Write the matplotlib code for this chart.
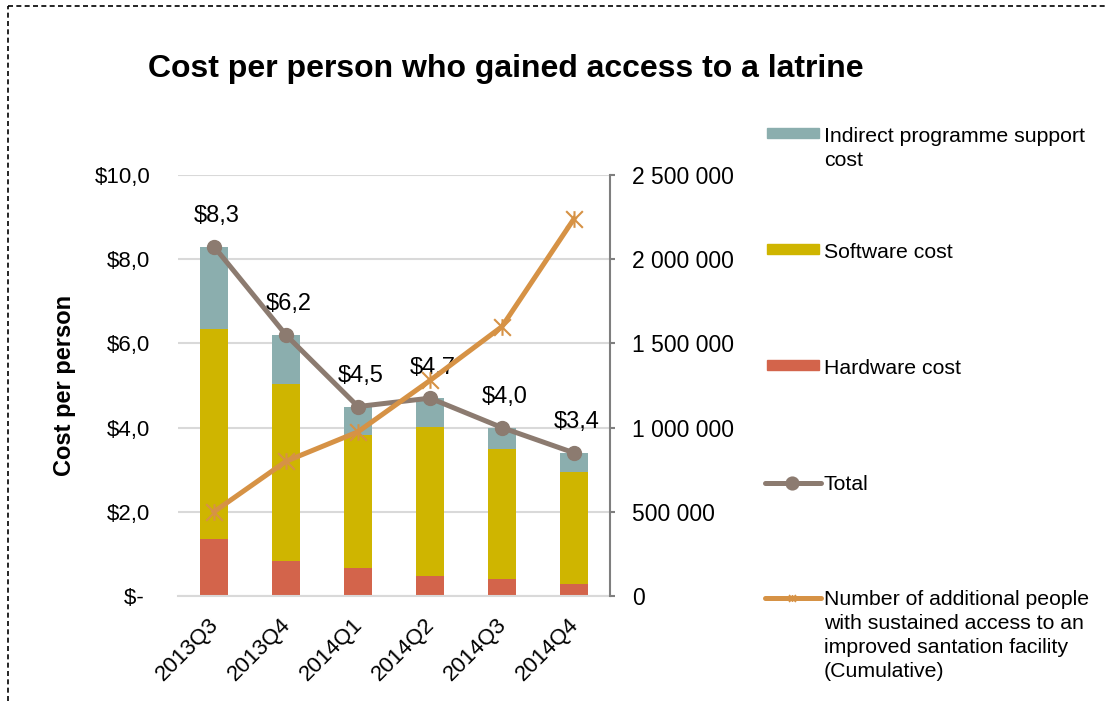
import numpy as np
import matplotlib
matplotlib.use('Agg')
import matplotlib.pyplot as plt
import matplotlib.transforms as mtransforms
from matplotlib.lines import Line2D
from matplotlib.patches import Rectangle
from matplotlib.path import Path

plt.rcParams['font.family'] = ['Liberation Sans', 'DejaVu Sans']

# data
quarters = ['2013Q3', '2013Q4', '2014Q1', '2014Q2', '2014Q3', '2014Q4']
hardware = [1.35, 0.83, 0.66, 0.48, 0.40, 0.29]
software = [4.99, 4.21, 3.16, 3.53, 3.09, 2.66]
indirect = [1.96, 1.16, 0.68, 0.69, 0.51, 0.45]
total = [8.3, 6.2, 4.5, 4.7, 4.0, 3.4]
people = [500000, 800000, 975000, 1280000, 1600000, 2240000]

left_ticks = [0, 2, 4, 6, 8, 10]
left_labels = ['$- ', '$2,0', '$4,0', '$6,0', '$8,0', '$10,0']
right_ticks = [0, 500000, 1000000, 1500000, 2000000, 2500000]
right_labels = ['0', '500 000', '1 000 000', '1 500 000', '2 000 000', '2 500 000']

c_ind = '#8BAEAE'
c_soft = '#CFB500'
c_hard = '#D3644B'
c_total = '#8C7B70'
c_people = '#D69245'
c_grid = '#D9D9D9'

# excel style star marker: x plus a vertical stroke
star = Path([(-1, -1), (1, 1), (-1, 1), (1, -1), (0, -1), (0, 1)],
            [Path.MOVETO, Path.LINETO, Path.MOVETO, Path.LINETO, Path.MOVETO, Path.LINETO])

fig = plt.figure(figsize=(11.05, 7.01), dpi=100)
ax = fig.add_axes([178 / 1105, 1 - 596 / 701, (610 - 178) / 1105, (596 - 175) / 701])

x = np.arange(len(quarters))
hw = np.array(hardware)
sw = np.array(software)
ind = np.array(indirect)
ax.bar(x, hw, width=0.39, color=c_hard, zorder=2)
ax.bar(x, sw, width=0.39, bottom=hw, color=c_soft, zorder=2)
ax.bar(x, ind, width=0.39, bottom=hw + sw, color=c_ind, zorder=2)
ax.plot(x, total, color=c_total, lw=3.6, marker='o', ms=10, zorder=5)
for xi, t in zip(x, total):
    ax.annotate('$' + f'{t:.1f}'.replace('.', ','), (xi, t), xytext=(2, 22),
                textcoords='offset points', ha='center', va='center', fontsize=17, zorder=6)

ax.set_xlim(-0.5, len(quarters) - 0.5)
ax.set_ylim(0, 10)
ax.set_yticks(left_ticks)
ax.set_yticklabels(left_labels, fontsize=16)
ax.tick_params(axis='y', length=0, pad=20)
ax.set_xticks(x)
ax.set_xticklabels(quarters, rotation=45, ha='right', rotation_mode='anchor', fontsize=16)
ax.tick_params(axis='x', length=0, pad=13)
shift = mtransforms.ScaledTranslation(-6 / 100, 0, fig.dpi_scale_trans)
for lab in ax.get_xticklabels():
    lab.set_transform(lab.get_transform() + shift)
ax.grid(axis='y', color=c_grid, lw=1.5, zorder=0)
ax.set_axisbelow(True)
for s in ['left', 'right', 'top']:
    ax.spines[s].set_visible(False)
ax.spines['bottom'].set_color(c_grid)
ax.spines['bottom'].set_linewidth(1.5)
ax.set_ylabel('Cost per person', fontsize=17, fontweight='bold')
ax.yaxis.set_label_coords(-0.235, 0.5)

ax2 = ax.twinx()
ax2.plot(x, people, color=c_people, lw=3.6, marker=star, ms=12, mew=1.5, zorder=4)
ax2.set_ylim(0, 2500000)
ax2.set_yticks(right_ticks)
ax2.set_yticklabels(right_labels, fontsize=16.5)
ax2.tick_params(axis='y', length=3.6, width=1.5, color='#7F7F7F', pad=12)
for s in ['left', 'top', 'bottom']:
    ax2.spines[s].set_visible(False)
ax2.spines['right'].set_color('#7F7F7F')
ax2.spines['right'].set_linewidth(1.5)

fig.text(148 / 1105, 1 - 69 / 701, 'Cost per person who gained access to a latrine',
         fontsize=23, fontweight='bold', va='center', ha='left')

# legend, drawn by hand to follow the reference layout
def fy(py):
    return 1 - py / 701

leg_items = [
    ('patch', c_ind, 'Indirect programme support\ncost', 135),
    ('patch', c_soft, 'Software cost', 251),
    ('patch', c_hard, 'Hardware cost', 367),
    ('line_o', c_total, 'Total', 483),
    ('line_x', c_people, 'Number of additional people\nwith sustained access to an\n'
     'improved santation facility\n(Cumulative)', 598),
]
for kind, col, lab, py in leg_items:
    if kind == 'patch':
        fig.add_artist(Rectangle((767 / 1105, fy(py + 3)), 52 / 1105, 10 / 701,
                                 color=col, transform=fig.transFigure))
    else:
        fig.add_artist(Line2D([765 / 1105, 821 / 1105], [fy(py), fy(py)], color=col, lw=3.6,
                              solid_capstyle='round', transform=fig.transFigure))
        fig.add_artist(Line2D([792 / 1105], [fy(py)], color=col,
                              marker='o' if kind == 'line_o' else star,
                              ms=9 if kind == 'line_o' else 5, mew=1.2,
                              transform=fig.transFigure))
    fig.text(824 / 1105, fy(py - 8), lab, fontsize=15.3, va='top', ha='left',
             linespacing=1.34, transform=fig.transFigure)

# dashed frame
fig.add_artist(Line2D([8 / 1105, 1.0], [fy(6), fy(6)], color='black', lw=1.2,
                      dashes=(3, 2), transform=fig.transFigure))
fig.add_artist(Line2D([8 / 1105, 8 / 1105], [0, fy(6)], color='black', lw=1.2,
                      dashes=(3, 2), transform=fig.transFigure))

fig.savefig('out.png', dpi=100)
